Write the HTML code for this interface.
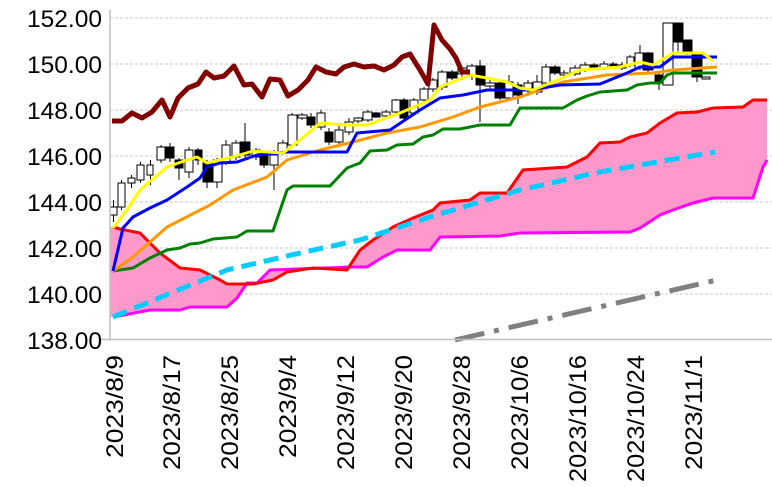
<!DOCTYPE html>
<html><head><meta charset="utf-8"><style>html,body{margin:0;padding:0;background:#fff}svg{display:block}</style></head>
<body>
<svg width="772" height="487" viewBox="0 0 772 487" xmlns="http://www.w3.org/2000/svg" font-family="Liberation Sans, sans-serif">
<g stroke="#c8c8c8" stroke-width="1" stroke-dasharray="3,2">
<line x1="110" y1="18" x2="772" y2="18"/><line x1="110" y1="64" x2="772" y2="64"/><line x1="110" y1="110" x2="772" y2="110"/><line x1="110" y1="156" x2="772" y2="156"/><line x1="110" y1="202" x2="772" y2="202"/><line x1="110" y1="248" x2="772" y2="248"/><line x1="110" y1="294" x2="772" y2="294"/>
</g>
<g font-size="24" text-anchor="end" fill="#000">
<text x="102" y="27" textLength="75" lengthAdjust="spacingAndGlyphs">152.00</text><text x="102" y="73" textLength="75" lengthAdjust="spacingAndGlyphs">150.00</text><text x="102" y="119" textLength="75" lengthAdjust="spacingAndGlyphs">148.00</text><text x="102" y="165" textLength="75" lengthAdjust="spacingAndGlyphs">146.00</text><text x="102" y="211" textLength="75" lengthAdjust="spacingAndGlyphs">144.00</text><text x="102" y="257" textLength="75" lengthAdjust="spacingAndGlyphs">142.00</text><text x="102" y="303" textLength="75" lengthAdjust="spacingAndGlyphs">140.00</text><text x="102" y="349" textLength="75" lengthAdjust="spacingAndGlyphs">138.00</text>
</g>
<polygon fill="#ff99cc" points="110,227 113,227 140,233 160,253 180,268 200,270 220,280 227,284 253,284 273,280 287,272 313,268 347,270 360,250 373,240 393,227 413,218 433,210 440,203 470,200 480,193 507,193 523,170 567,167 587,157 600,143 620,142 630,137 647,133 660,123 677,113 697,112 713,108 743,107 753,100 767,100 767,165 763,167 753,198 713,198 693,203 673,210 660,215 640,228 630,232 520,233 500,236 440,237 430,250 397,250 383,257 367,267 353,267 270,270 257,283 247,283 237,298 227,307 190,307 180,310 150,310 113,317 110,317"/>
<polyline fill="none" stroke="#ff00ff" stroke-width="3" points="113,317 150,310 180,310 190,307 227,307 237,298 247,283 257,283 270,270 353,267 367,267 383,257 397,250 430,250 440,237 500,236 520,233 630,232 640,228 660,215 673,210 693,203 713,198 753,198 763,167 767,160"/>
<polyline fill="none" stroke="#ff0000" stroke-width="3" points="113,227 120,229 140,233 160,253 180,268 200,270 220,280 227,284 253,284 273,280 287,272 313,268 347,270 360,250 373,240 393,227 413,218 433,210 440,203 470,200 480,193 507,193 523,170 567,167 587,157 600,143 620,142 630,137 647,133 660,123 677,113 697,112 713,108 743,107 753,100 767,100"/>
<polyline fill="none" stroke="#00ccff" stroke-width="5" stroke-dasharray="15,8" points="113,317 227,270 300,253 360,240 430,217 520,190 600,172 680,158 715,152"/>
<line x1="455" y1="340" x2="717" y2="280" stroke="#808080" stroke-width="5" stroke-dasharray="30,10,5,10"/>
<g stroke="#000" stroke-width="1">
<line x1="113.5" y1="200" x2="113.5" y2="222"/><rect x="110" y="207" width="7" height="8" fill="#fff"/>
<line x1="121.5" y1="180" x2="121.5" y2="210"/><rect x="118" y="183" width="7" height="24" fill="#fff"/>
<line x1="131.5" y1="175" x2="131.5" y2="188"/><rect x="128" y="178" width="7" height="5" fill="#fff"/>
<line x1="140.5" y1="162" x2="140.5" y2="183"/><rect x="137" y="165" width="7" height="15" fill="#fff"/>
<line x1="150.5" y1="160" x2="150.5" y2="185"/><rect x="147" y="165" width="6" height="10" fill="#fff"/>
<line x1="161" y1="145" x2="161" y2="163"/><rect x="157" y="147" width="8" height="13" fill="#fff"/>
<line x1="170" y1="143" x2="170" y2="162"/><rect x="166" y="147" width="8" height="11" fill="#000"/>
<line x1="179" y1="158" x2="179" y2="180"/><rect x="175" y="160" width="8" height="8" fill="#000"/>
<line x1="189" y1="147" x2="189" y2="178"/><rect x="185" y="150" width="8" height="22" fill="#fff"/>
<line x1="198" y1="148" x2="198" y2="165"/><rect x="195" y="150" width="7" height="10" fill="#000"/>
<line x1="207" y1="160" x2="207" y2="188"/><rect x="203" y="163" width="9" height="19" fill="#000"/>
<line x1="217" y1="158" x2="217" y2="188"/><rect x="213" y="160" width="9" height="22" fill="#fff"/>
<line x1="226" y1="140" x2="226" y2="165"/><rect x="222" y="145" width="8" height="17" fill="#fff"/>
<line x1="236" y1="140" x2="236" y2="160"/><rect x="232" y="143" width="8" height="14" fill="#fff"/>
<line x1="245" y1="123" x2="245" y2="158"/><rect x="240" y="142" width="10" height="13" fill="#000"/>
<line x1="256" y1="148" x2="256" y2="160"/><rect x="252" y="150" width="8" height="7" fill="#fff"/>
<line x1="264" y1="153" x2="264" y2="168"/><rect x="260" y="155" width="8" height="10" fill="#000"/>
<line x1="274" y1="150" x2="274" y2="190"/><rect x="270" y="155" width="8" height="10" fill="#fff"/>
<line x1="283" y1="140" x2="283" y2="155"/><rect x="278" y="143" width="9" height="10" fill="#fff"/>
<line x1="292" y1="113" x2="292" y2="147"/><rect x="288" y="115" width="9" height="30" fill="#fff"/>
<line x1="302" y1="113" x2="302" y2="120"/><rect x="298" y="115" width="9" height="3" fill="#fff"/>
<line x1="311" y1="113" x2="311" y2="128"/><rect x="307" y="117" width="8" height="8" fill="#000"/>
<line x1="321" y1="110" x2="321" y2="130"/><rect x="317" y="113" width="8" height="14" fill="#fff"/>
<line x1="329" y1="128" x2="329" y2="145"/><rect x="325" y="132" width="8" height="10" fill="#000"/>
<line x1="339" y1="125" x2="339" y2="147"/><rect x="335" y="130" width="8" height="12" fill="#fff"/>
<line x1="349" y1="118" x2="349" y2="135"/><rect x="345" y="122" width="8" height="10" fill="#fff"/>
<line x1="358" y1="117" x2="358" y2="123"/><rect x="354" y="118" width="8" height="3" fill="#fff"/>
<line x1="368" y1="110" x2="368" y2="122"/><rect x="363" y="112" width="9" height="8" fill="#fff"/>
<line x1="376" y1="112" x2="376" y2="118"/><rect x="372" y="113" width="8" height="4" fill="#000"/>
<line x1="386" y1="110" x2="386" y2="118"/><rect x="382" y="112" width="8" height="4" fill="#fff"/>
<line x1="396" y1="99" x2="396" y2="114"/><rect x="392" y="100" width="8" height="12" fill="#fff"/>
<line x1="404" y1="98" x2="404" y2="120"/><rect x="400" y="100" width="8" height="18" fill="#000"/>
<line x1="414" y1="98" x2="414" y2="115"/><rect x="410" y="100" width="8" height="13" fill="#fff"/>
<line x1="424" y1="87" x2="424" y2="102"/><rect x="420" y="89" width="8" height="11" fill="#fff"/>
<line x1="433" y1="78" x2="433" y2="92"/><rect x="429" y="80" width="8" height="9" fill="#fff"/>
<line x1="442" y1="70" x2="442" y2="90"/><rect x="438" y="72" width="9" height="15" fill="#fff"/>
<line x1="452" y1="70" x2="452" y2="80"/><rect x="447" y="72" width="10" height="6" fill="#000"/>
<line x1="462" y1="66" x2="462" y2="80"/><rect x="458" y="68" width="9" height="6" fill="#fff"/>
<line x1="472" y1="64" x2="472" y2="80"/><rect x="467" y="66" width="10" height="9" fill="#fff"/>
<line x1="480" y1="60" x2="480" y2="122"/><rect x="476" y="66" width="9" height="19" fill="#000"/>
<line x1="490" y1="80" x2="490" y2="90"/><rect x="485" y="83" width="10" height="3" fill="#fff"/>
<line x1="500" y1="80" x2="500" y2="100"/><rect x="495" y="83" width="10" height="15" fill="#000"/>
<line x1="509" y1="75" x2="509" y2="100"/><rect x="505" y="82" width="8" height="16" fill="#fff"/>
<line x1="518" y1="82" x2="518" y2="104"/><rect x="513" y="85" width="9" height="10" fill="#000"/>
<line x1="528" y1="80" x2="528" y2="96"/><rect x="524" y="83" width="8" height="8" fill="#fff"/>
<line x1="537" y1="75" x2="537" y2="95"/><rect x="533" y="82" width="9" height="10" fill="#fff"/>
<line x1="546" y1="64" x2="546" y2="85"/><rect x="542" y="67" width="8" height="16" fill="#fff"/>
<line x1="555" y1="65" x2="555" y2="75"/><rect x="550" y="67" width="10" height="6" fill="#000"/>
<line x1="564" y1="70" x2="564" y2="77"/><rect x="560" y="73" width="8" height="2" fill="#fff"/>
<line x1="575" y1="65" x2="575" y2="76"/><rect x="570" y="68" width="10" height="6" fill="#fff"/>
<line x1="585" y1="62" x2="585" y2="72"/><rect x="580" y="65" width="10" height="5" fill="#fff"/>
<line x1="594" y1="63" x2="594" y2="70"/><rect x="590" y="65" width="8" height="2" fill="#000"/>
<line x1="604" y1="61" x2="604" y2="70"/><rect x="600" y="64" width="8" height="4" fill="#fff"/>
<line x1="613" y1="62" x2="613" y2="69"/><rect x="610" y="64" width="7" height="3" fill="#000"/>
<line x1="622" y1="62" x2="622" y2="70"/><rect x="617" y="65" width="9" height="3" fill="#fff"/>
<line x1="630" y1="55" x2="630" y2="67"/><rect x="627" y="57" width="7" height="8" fill="#fff"/>
<line x1="640" y1="45" x2="640" y2="70"/><rect x="635" y="53" width="10" height="15" fill="#fff"/>
<line x1="648" y1="52" x2="648" y2="72"/><rect x="643" y="53" width="10" height="17" fill="#000"/>
<line x1="659" y1="72" x2="659" y2="90"/><rect x="655" y="75" width="8" height="8" fill="#000"/>
<line x1="668" y1="23" x2="668" y2="85"/><rect x="663" y="23" width="10" height="62" fill="#fff"/>
<line x1="678" y1="23" x2="678" y2="52"/><rect x="673" y="23" width="10" height="19" fill="#000"/>
<line x1="687" y1="40" x2="687" y2="55"/><rect x="683" y="40" width="9" height="12" fill="#000"/>
<line x1="697" y1="52" x2="697" y2="82"/><rect x="692" y="52" width="10" height="25" fill="#000"/>
<rect x="702" y="77" width="8" height="2" fill="#fff"/>
</g>
<g fill="none" stroke-linejoin="round" stroke-width="3">
<polyline stroke="#008000" points="113,271 133,268 150,258 167,250 180,248 190,244 200,243 213,239 237,237 247,231 273,231 287,190 293,186 330,186 347,168 360,163 370,151 387,150 397,145 413,144 423,137 433,135 443,129 460,129 480,125 510,125 520,108 563,108 577,100 587,96 600,92 627,90 637,85 650,83 660,83 667,75 673,73 717,73"/>
<polyline stroke="#ff9900" points="113,271 133,257 167,227 210,205 233,190 267,177 287,160 320,150 353,142 387,133 420,127 453,117 480,107 520,97 563,82 607,75 653,73 673,70 717,67"/>
<polyline stroke="#0000ff" points="113,271 123,228 133,217 150,208 167,200 187,187 200,178 207,167 220,163 237,162 257,155 287,152 347,152 357,133 390,130 420,110 440,98 463,95 487,90 530,90 560,85 600,84 627,73 640,67 660,67 673,57 717,57"/>
<polyline stroke="#ffff00" points="113,228 127,210 140,190 167,167 187,160 197,157 207,163 233,157 253,151 283,153 300,140 320,123 347,125 367,125 400,113 430,100 440,87 470,75 487,78 507,82 520,88 533,90 553,82 580,70 620,67 640,62 653,65 673,53 703,53 713,61"/>
<polyline stroke="#800000" stroke-width="5" points="112,121 122,121 132,113 142,118 152,112 162,100 170,117 178,98 188,88 198,84 206,72 214,78 224,76 234,66 244,85 252,84 262,97 270,79 280,80 288,96 298,90 308,80 316,67 326,72 336,74 344,67 354,64 364,67 374,66 384,70 394,65 402,57 410,54 420,70 428,84 434,25 442,40 450,49 456,58 462,72 470,72"/>
</g>
<line x1="110" y1="10" x2="110" y2="340" stroke="#bfbfbf" stroke-width="1.5"/>
<line x1="101" y1="339.5" x2="772" y2="339.5" stroke="#bfbfbf" stroke-width="1.5"/>
<g font-size="24" text-anchor="end" fill="#000">
<text transform="translate(123,355) rotate(-90)" textLength="103" lengthAdjust="spacingAndGlyphs">2023/8/9</text>
<text transform="translate(180,355) rotate(-90)" textLength="115" lengthAdjust="spacingAndGlyphs">2023/8/17</text>
<text transform="translate(238,355) rotate(-90)" textLength="115" lengthAdjust="spacingAndGlyphs">2023/8/25</text>
<text transform="translate(296,355) rotate(-90)" textLength="103" lengthAdjust="spacingAndGlyphs">2023/9/4</text>
<text transform="translate(354,355) rotate(-90)" textLength="115" lengthAdjust="spacingAndGlyphs">2023/9/12</text>
<text transform="translate(412,355) rotate(-90)" textLength="115" lengthAdjust="spacingAndGlyphs">2023/9/20</text>
<text transform="translate(470,355) rotate(-90)" textLength="115" lengthAdjust="spacingAndGlyphs">2023/9/28</text>
<text transform="translate(528,355) rotate(-90)" textLength="115" lengthAdjust="spacingAndGlyphs">2023/10/6</text>
<text transform="translate(586,355) rotate(-90)" textLength="127" lengthAdjust="spacingAndGlyphs">2023/10/16</text>
<text transform="translate(644,355) rotate(-90)" textLength="127" lengthAdjust="spacingAndGlyphs">2023/10/24</text>
<text transform="translate(702,355) rotate(-90)" textLength="115" lengthAdjust="spacingAndGlyphs">2023/11/1</text>
</g>
</svg>
</body></html>
